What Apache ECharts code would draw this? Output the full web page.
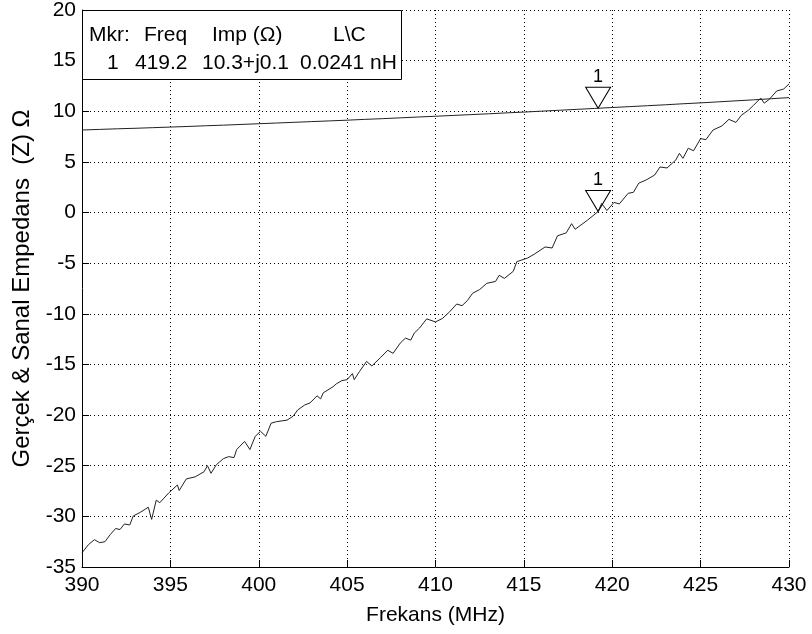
<!DOCTYPE html>
<html>
<head>
<meta charset="utf-8">
<script src="https://cdn.jsdelivr.net/npm/echarts@6/dist/echarts.min.js"></script>
<style>
  html, body { margin: 0; padding: 0; background: #fff; }
  #container { width: 812px; height: 634px; }
</style>
</head>
<body>
<div id="container"></div>
<script>
var FONT = 'Liberation Sans, Arial, sans-serif';

// real part (upper, almost straight line)
var realFreq = [390, 391, 392, 393, 394, 395, 396, 397, 398, 399, 400, 401, 402, 403, 404, 405,
    406, 407, 408, 409, 410, 411, 412, 413, 414, 415, 416, 417, 418, 419, 420, 421, 422, 423,
    424, 425, 426, 427, 428, 429, 430];
var realVals = [8.15, 8.21, 8.27, 8.32, 8.38, 8.44, 8.50, 8.57, 8.63, 8.70, 8.77, 8.84, 8.91,
    8.98, 9.05, 9.12, 9.20, 9.27, 9.35, 9.43, 9.51, 9.59, 9.67, 9.75, 9.84, 9.92, 10.01, 10.10,
    10.19, 10.28, 10.37, 10.46, 10.55, 10.64, 10.74, 10.83, 10.93, 11.03, 11.13, 11.24, 11.35];

// imaginary part (noisy rising line)
var imagFreq = [390.0, 390.1, 390.36, 390.7, 391.0, 391.3, 391.6, 391.9, 392.15, 392.4, 392.7,
    392.9, 393.3, 393.75, 393.94, 394.2, 394.4, 394.9, 395.4, 395.5, 395.9, 396.4, 396.9, 397.1,
    397.3, 397.6, 398.0, 398.3, 398.6, 398.75, 399.2, 399.5, 399.8, 400.1, 400.4, 400.7, 401.0,
    401.6, 401.95, 402.2, 402.6, 402.9, 403.3, 403.5, 403.65, 404.2, 404.4, 404.7, 405.0, 405.3,
    405.4, 405.7, 406.1, 406.4, 406.9, 407.3, 407.6, 408.0, 408.3, 408.6, 408.8, 409.1, 409.5,
    410.0, 410.4, 410.8, 411.2, 411.5, 411.8, 412.1, 412.5, 412.9, 413.4, 413.6, 413.9, 414.4,
    414.6, 415.2, 415.6, 416.2, 416.6, 416.9, 417.4, 417.7, 417.9, 418.6, 419.2, 419.4, 419.7,
    420.1, 420.4, 420.9, 421.2, 421.5, 421.9, 422.4, 422.7, 423.1, 423.6, 423.8, 424.0, 424.3,
    424.6, 425.0, 425.3, 425.7, 426.2, 426.6, 427.0, 427.3, 427.7, 428.0, 428.4, 428.6, 428.9,
    429.3, 429.7, 430.0];
var imagVals = [-33.6, -33.5, -32.8, -32.3, -32.6, -32.5, -31.8, -31.2, -31.3, -30.75, -30.85,
    -29.96, -29.6, -29.1, -30.3, -28.4, -28.65, -27.7, -26.9, -27.45, -26.3, -26.1, -25.6, -25.0,
    -25.75, -24.9, -24.3, -24.1, -24.2, -23.4, -22.6, -23.4, -22.1, -21.6, -22.1, -20.8, -20.65,
    -20.5, -20.1, -19.5, -19.0, -18.8, -18.1, -18.4, -17.8, -17.2, -16.9, -16.6, -16.5, -15.9,
    -16.5, -15.7, -14.7, -15.15, -14.3, -13.6, -13.9, -12.9, -12.4, -12.6, -11.9, -11.4, -10.5,
    -10.8, -10.45, -9.8, -9.03, -9.2, -8.7, -7.97, -7.6, -6.99, -6.8, -6.2, -6.5, -5.8,
    -4.85, -4.5, -4.1, -3.4, -3.5, -2.3, -2.0, -1.1, -1.65, -0.75, 0.1, 0.9, 0.2,
    1.0, 0.85, 1.9, 2.0, 2.9, 3.2, 3.7, 4.5, 4.4, 5.2, 5.85, 5.35, 6.35,
    6.1, 7.3, 7.2, 8.15, 8.55, 9.2, 8.9, 9.6, 10.1, 10.6, 11.3, 10.8, 11.2,
    12.0, 12.2, 12.7];

// marker 1
var markerFreq = 419.2;
var markerReal = 10.3;
var markerImag = 0.1;

// marker table text
var tableHead = ['Mkr:', 'Freq', 'Imp (\u03A9)', 'L\\C'];
var tableRow = ['1', '419.2', '10.3+j0.1', '0.0241 nH'];

function pairs(xs, ys) {
    var out = [];
    for (var i = 0; i < xs.length; i++) {
        out.push([xs[i], ys[i]]);
    }
    return out;
}

function marker(value) {
    return {
        symbol: 'path://M0,0L25,0L12.5,21Z',
        symbolSize: [25, 21],
        symbolOffset: [0, -10.5],
        itemStyle: { color: 'rgba(0,0,0,0)', borderColor: '#000', borderWidth: 1 },
        label: {
            show: true, position: 'top', distance: 1, formatter: '1',
            color: '#000', fontFamily: FONT, fontSize: 18
        },
        data: [{ coord: [markerFreq, value] }]
    };
}

var myChart = echarts.init(document.getElementById('container'));

var headX = [89, 144, 212, 333];
var rowX = [107, 135, 202, 300];
var graphics = [{
    type: 'rect',
    z: 100,
    shape: { x: 82.5, y: 10.5, width: 319, height: 69 },
    style: { fill: '#fff', stroke: '#000', lineWidth: 1 }
}];
tableHead.forEach(function (t, i) {
    graphics.push({
        type: 'text', z: 101, x: headX[i], y: 35,
        style: { text: t, font: '21px ' + FONT, fill: '#000', textVerticalAlign: 'middle' }
    });
});
tableRow.forEach(function (t, i) {
    graphics.push({
        type: 'text', z: 101, x: rowX[i], y: 63,
        style: { text: t, font: '21px ' + FONT, fill: '#000', textVerticalAlign: 'middle' }
    });
});

option = {
    animation: false,
    backgroundColor: '#fff',
    textStyle: { fontFamily: FONT },
    grid: { left: 82, top: 10, right: 23, bottom: 67, outerBoundsMode: 'none' },
    xAxis: {
        type: 'value',
        min: 390, max: 430, interval: 5,
        name: 'Frekans (MHz)',
        nameLocation: 'middle',
        nameGap: 38,
        nameTextStyle: { color: '#000', fontSize: 21, fontFamily: FONT },
        axisLine: { onZero: false, lineStyle: { color: '#000', width: 1 } },
        axisTick: { inside: true, length: 7, lineStyle: { color: '#000' } },
        axisLabel: { color: '#000', fontSize: 21, fontFamily: FONT, margin: 8 },
        splitLine: { show: true, lineStyle: { color: '#000', type: [1, 3], width: 1 } }
    },
    yAxis: {
        type: 'value',
        min: -35, max: 20, interval: 5,
        name: 'Ger\u00E7ek & Sanal Empedans  (Z) \u03A9',
        nameLocation: 'middle',
        nameGap: 46,
        nameTextStyle: { color: '#000', fontSize: 24, fontFamily: FONT },
        axisLine: { onZero: false, lineStyle: { color: '#000', width: 1 } },
        axisTick: { inside: true, length: 7, lineStyle: { color: '#000' } },
        axisLabel: { color: '#000', fontSize: 21, fontFamily: FONT, margin: 6 },
        splitLine: { show: true, lineStyle: { color: '#000', type: [1, 3], width: 1 } }
    },
    graphic: graphics,
    series: [{
        name: 'real',
        type: 'line',
        showSymbol: false,
        lineStyle: { color: '#222', width: 1 },
        data: pairs(realFreq, realVals),
        markPoint: marker(markerReal)
    }, {
        name: 'imag',
        type: 'line',
        showSymbol: false,
        lineStyle: { color: '#222', width: 1 },
        data: pairs(imagFreq, imagVals),
        markPoint: marker(markerImag)
    }]
};

myChart.setOption(option, true);
</script>
</body>
</html>
